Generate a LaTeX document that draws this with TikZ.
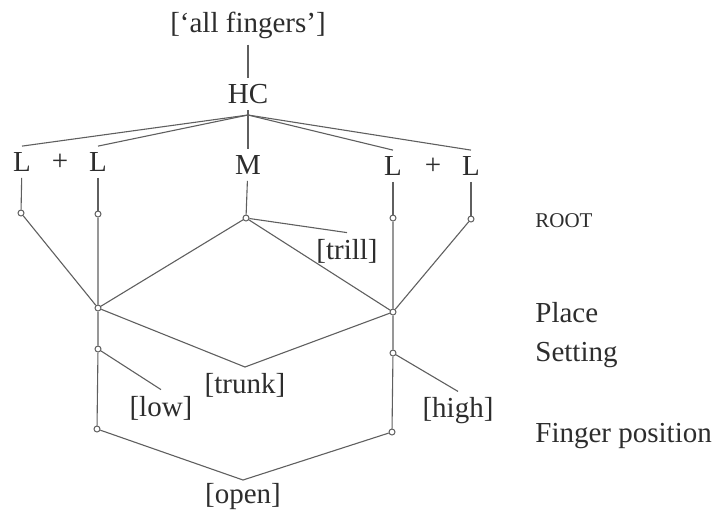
\documentclass[tikz,border=0pt]{standalone}
\usepackage{fontspec}
\setmainfont{Liberation Serif}
\usetikzlibrary{positioning}
\definecolor{inkgray}{RGB}{45,45,45}
\definecolor{linegray}{RGB}{95,95,95}
\tikzset{
  %% ---- text ----
  feat/.style      = {font=\fontsize{14.5}{16}\selectfont, text=inkgray,
                      inner sep=3pt},
  tierlabel/.style = {font=\fontsize{14.5}{16}\selectfont, text=inkgray,
                      inner sep=0pt, anchor=base west},
  %% ---- tree ----
  dot/.style       = {circle, draw=linegray, fill=white, line width=0.5pt,
                      inner sep=0pt, minimum size=3pt},
  branch/.style    = {draw=linegray, line width=0.55pt},
}

\begin{document}
\begin{tikzpicture}[x=0.5pt, y=-0.5pt]
\useasboundingbox (0,0) rectangle (719,511);

% top of the tree
\node[feat] (allf) at (248,25) {[`all fingers']};
\node[feat] (hc)   at (248,94) {HC};
\coordinate (hcfork) at (248,115);

% articulators
\node[feat] (la) at (22,162)  {L};
\node[feat] (pa) at (60,162)  {+};
\node[feat] (lb) at (98,162)  {L};
\node[feat] (m)  at (248,165) {M};
\node[feat] (lc) at (393,166) {L};
\node[feat] (pb) at (433,166) {+};
\node[feat] (ld) at (471,166) {L};

% root dots
\node[dot] (ra) at (21,213)  {};
\node[dot] (rb) at (98,214)  {};
\node[dot] (rm) at (246,218) {};
\node[dot] (rc) at (393,218) {};
\node[dot] (rd) at (471,219) {};

% place, setting and finger position dots
\node[dot] (plL) at (98,308)  {};
\node[dot] (plR) at (393,312) {};
\node[dot] (stL) at (98,349)  {};
\node[dot] (stR) at (393,353) {};
\node[dot] (fpL) at (97,429)  {};
\node[dot] (fpR) at (392,432) {};

% feature values
\node[feat] (trill) at (347,251) {[trill]};
\node[feat, anchor=north] (trunk) at (245,367) {[trunk]};
\node[feat] (low)  at (161,408) {[low]};
\node[feat] (high) at (458,411) {[high]};
\node[feat, anchor=north, inner sep=1.5pt] (open) at (243,480) {[open]};

% tier names on the right
\node[tierlabel] (troot)  at (535,227) {\fontsize{10.5}{12}\selectfont ROOT};
\node[tierlabel] (tplace) at (535,322) {Place};
\node[tierlabel] (tset)   at (535,361) {Setting};
\node[tierlabel] (tfing)  at (535,442) {Finger position};

% Branches
\draw[branch] (allf) -- (hc);
\draw[branch] (hc) -- (m);
\draw[branch] (hcfork) -- (la.north);
\draw[branch] (hcfork) -- (lb.north);
\draw[branch] (hcfork) -- (lc.north);
\draw[branch] (hcfork) -- (ld.north);
\draw[branch] (la) -- (ra);
\draw[branch] (lb) -- (rb);
\draw[branch] (m)  -- (rm);
\draw[branch] (lc) -- (rc);
\draw[branch] (ld) -- (rd);
\draw[branch] (ra) -- (plL);
\draw[branch] (rm) -- (plL);
\draw[branch] (rm) -- (plR);
\draw[branch] (rd) -- (plR);
\draw[branch] (rm) -- (trill.north);
\draw[branch] (rb) -- (plL) -- (stL) -- (fpL);
\draw[branch] (rc) -- (plR) -- (stR) -- (fpR);
\draw[branch] (plL) -- (trunk.north) -- (plR);
\draw[branch] (stL) -- (low.north);
\draw[branch] (stR) -- (high.north);
\draw[branch] (fpL) -- (open.north) -- (fpR);

\end{tikzpicture}
\end{document}
